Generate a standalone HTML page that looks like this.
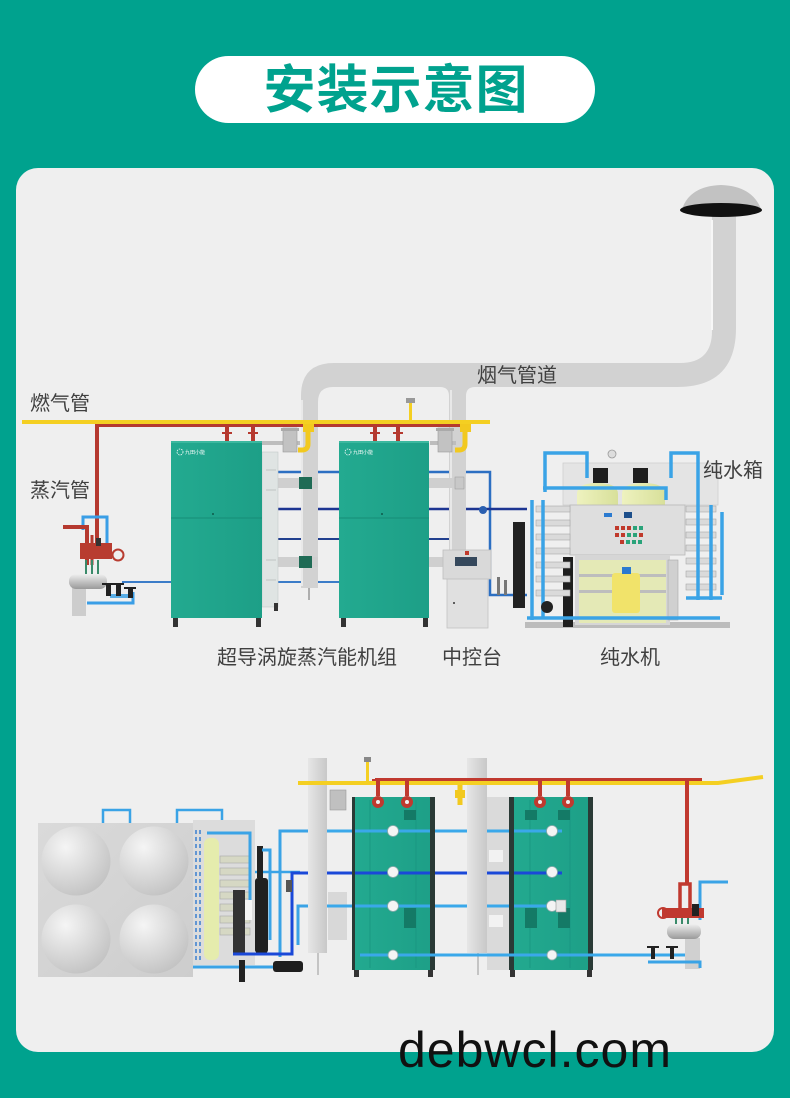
<!DOCTYPE html>
<html><head><meta charset="utf-8">
<style>
html,body{margin:0;padding:0;width:790px;height:1098px;overflow:hidden;background:#00a28e}
svg{display:block}
text{font-family:"Liberation Sans","Noto Sans CJK SC",sans-serif}
</style></head><body>
<svg width="790" height="1098" viewBox="0 0 790 1098" xmlns="http://www.w3.org/2000/svg">
<defs>
 <linearGradient id="dv" x1="0" x2="1" y1="0" y2="0"><stop offset="0" stop-color="#e6e6e6"/><stop offset="1" stop-color="#c8c8c8"/></linearGradient>
 <linearGradient id="teal" x1="0" x2="1" y1="0" y2="0"><stop offset="0" stop-color="#23aa90"/><stop offset="1" stop-color="#1d9f87"/></linearGradient>
 <radialGradient id="dome" cx="0.35" cy="0.3" r="0.85"><stop offset="0" stop-color="#f5f5f5"/><stop offset="1" stop-color="#bcbcbc"/></radialGradient>
 <linearGradient id="tank" x1="0" x2="1" y1="0" y2="1"><stop offset="0" stop-color="#dadada"/><stop offset="1" stop-color="#cdcdcd"/></linearGradient>
 <linearGradient id="cyl" x1="0" x2="0" y1="0" y2="1"><stop offset="0" stop-color="#f0f0f0"/><stop offset="0.5" stop-color="#c4c4c4"/><stop offset="1" stop-color="#9a9a9a"/></linearGradient>
 <linearGradient id="yel" x1="0" x2="1"><stop offset="0" stop-color="#eef2bf"/><stop offset="1" stop-color="#d8e09a"/></linearGradient>
</defs>

<rect width="790" height="1098" fill="#00a28e"/>
<rect x="195" y="56" width="400" height="67" rx="33.5" fill="#fff"/>
<text x="396" y="108" text-anchor="middle" font-size="52" font-weight="700" fill="#00a28e" letter-spacing="1">安装示意图</text>

<rect x="16" y="168" width="758" height="884" rx="22" fill="#efefef"/>

<!-- ================= TOP SECTION ================= -->
<g fill="none" stroke-width="2.5">
 <path d="M262 472 H339 M429 472 H490 V595 H527" stroke="#2c6fc2"/>
 <path d="M262 509 H339 M429 509 H527" stroke="#1d3592"/>
 <path d="M262 539 H339 M429 539 H449" stroke="#22408f" stroke-width="2"/>
 <path d="M122 582 H171 M262 582 H339" stroke="#3b7cc8" stroke-width="2"/>
</g>

<!-- flue duct -->
<path d="M712 214 H736 V328 Q736 387 677 387 H333 Q318 387 318 402 V588 H301 V396 Q301 363 334 363 H680 Q712 363 712 331 Z" fill="#d2d2d2"/>
<path d="M712 220 V330" stroke="#f7f7f7" stroke-width="2"/>
<path d="M302 400 V586" stroke="#e9e9e9" stroke-width="2"/>
<path d="M440 387 Q449 387 449 396 L466 396 Q466 387 475 387 Z" fill="#d2d2d2"/>
<rect x="449" y="386" width="17" height="166" fill="#d2d2d2"/>
<rect x="450" y="390" width="2" height="160" fill="#e8e8e8"/>
<path d="M682 209 Q690 186 721 185 Q752 186 761 209 Z" fill="#c2c2c2"/>
<ellipse cx="721" cy="210" rx="41" ry="7" fill="#111"/>

<rect x="278" y="478" width="40" height="10" fill="#cfcfcf"/>
<rect x="299" y="477" width="13" height="12" fill="#1f6b55"/>
<rect x="278" y="557" width="40" height="10" fill="#cfcfcf"/>
<rect x="299" y="556" width="13" height="12" fill="#1f6b55"/>
<rect x="429" y="478" width="37" height="10" fill="#cfcfcf"/>
<rect x="455" y="477" width="9" height="12" fill="#c8c8c8" stroke="#999" stroke-width="0.5"/>
<rect x="429" y="557" width="20" height="10" fill="#cfcfcf"/>
<path d="M309 588 V600" stroke="#999" stroke-width="1.5"/>

<rect x="22" y="420" width="468" height="4" fill="#f4cf22"/>
<rect x="95" y="424" width="375" height="3" fill="#b5392f"/>
<rect x="95" y="424" width="4" height="126" fill="#b5392f"/>
<rect x="409" y="402" width="3" height="18" fill="#f4cf22"/>
<rect x="406" y="398" width="9" height="5" fill="#999"/>
<g fill="#b5392f">
 <rect x="225" y="426" width="4" height="15"/><rect x="222" y="432" width="10" height="2"/>
 <rect x="251" y="426" width="4" height="15"/><rect x="248" y="432" width="10" height="2"/>
 <rect x="373" y="426" width="4" height="15"/><rect x="370" y="432" width="10" height="2"/>
 <rect x="396" y="426" width="4" height="15"/><rect x="393" y="432" width="10" height="2"/>
</g>
<g>
 <rect x="262" y="441" width="38" height="4" fill="#bdbdbd"/>
 <rect x="283" y="428" width="14" height="24" fill="#c2c2c2" stroke="#999" stroke-width="0.6"/>
 <rect x="281" y="428" width="18" height="3" fill="#aaa"/>
 <rect x="303" y="424" width="11" height="8" fill="#f2c91f"/>
 <path d="M308 432 V444 Q308 450 302 450 H298" fill="none" stroke="#f2c91f" stroke-width="5"/>
 <rect x="430" y="441" width="26" height="4" fill="#bdbdbd"/>
 <rect x="438" y="428" width="14" height="24" fill="#c2c2c2" stroke="#999" stroke-width="0.6"/>
 <rect x="436" y="428" width="18" height="3" fill="#aaa"/>
 <rect x="460" y="424" width="11" height="8" fill="#f2c91f"/>
 <path d="M465 432 V444 Q465 450 459 450 H455" fill="none" stroke="#f2c91f" stroke-width="5"/>
</g>

<!-- boiler 1 -->
<rect x="262" y="452" width="16" height="155" fill="#dfe4e3" stroke="#c4c9c8" stroke-width="0.6"/>
<path d="M266 470 H276 M266 490 H276 M266 560 H276 M266 580 H276" stroke="#bfc4c3" stroke-width="1"/>
<rect x="274" y="603" width="4" height="8" fill="#333"/>
<rect x="171" y="441" width="91" height="177" fill="url(#teal)"/>
<rect x="171" y="441" width="91" height="2" fill="#3cb89f"/>
<line x1="171" y1="518" x2="262" y2="518" stroke="#168d77" stroke-width="1"/>
<circle cx="213" cy="514" r="1" fill="#0d5a4b"/>
<circle cx="180" cy="452" r="3" fill="none" stroke="#fff" stroke-width="0.8" stroke-dasharray="1.5 1"/>
<text x="185" y="454" font-size="5" fill="#fff">九田小能</text>
<rect x="173" y="618" width="5" height="9" fill="#333"/>
<rect x="256" y="618" width="5" height="9" fill="#333"/>
<!-- boiler 2 -->
<rect x="339" y="441" width="90" height="177" fill="url(#teal)"/>
<rect x="339" y="441" width="90" height="2" fill="#3cb89f"/>
<line x1="339" y1="518" x2="429" y2="518" stroke="#168d77" stroke-width="1"/>
<circle cx="382" cy="514" r="1" fill="#0d5a4b"/>
<circle cx="348" cy="452" r="3" fill="none" stroke="#fff" stroke-width="0.8" stroke-dasharray="1.5 1"/>
<text x="353" y="454" font-size="5" fill="#fff">九田小能</text>
<rect x="341" y="618" width="5" height="9" fill="#333"/>
<rect x="423" y="618" width="5" height="9" fill="#333"/>

<!-- top-left steam header -->
<g>
 <path d="M83 530 V517 H107 V552" fill="none" stroke="#3a9ee6" stroke-width="3"/>
 <path d="M63 527 H87 V565" fill="none" stroke="#b5392f" stroke-width="4"/>
 <path d="M92 535 V565" fill="none" stroke="#b5392f" stroke-width="3"/>
 <rect x="80" y="543" width="32" height="16" fill="#b83c30"/>
 <rect x="96" y="538" width="5" height="8" fill="#333"/>
 <circle cx="118" cy="555" r="5.5" fill="none" stroke="#b83c30" stroke-width="2"/>
 <path d="M86 560 V575 M92 560 V575 M98 560 V575" stroke="#3a8a6a" stroke-width="2"/>
 <rect x="72" y="588" width="14" height="28" fill="#cdcdcd"/>
 <rect x="69" y="574" width="38" height="15" rx="7" fill="url(#cyl)"/>
 <path d="M87 603 H133 V592" fill="none" stroke="#3a9ee6" stroke-width="3"/>
 <path d="M110 596 H130" stroke="#5aaee6" stroke-width="4"/>
 <g fill="#222"><rect x="106" y="584" width="5" height="12"/><rect x="102" y="583" width="12" height="2"/>
 <rect x="116" y="584" width="5" height="12"/><rect x="112" y="583" width="12" height="2"/>
 <rect x="128" y="588" width="5" height="10"/><rect x="124" y="587" width="12" height="2"/></g>
</g>

<!-- control console -->
<rect x="447" y="578" width="41" height="50" fill="#e0e0e0" stroke="#c2c2c2" stroke-width="0.8"/>
<circle cx="454" cy="603" r="1" fill="#333"/>
<rect x="443" y="550" width="48" height="29" fill="#d9d9d9" stroke="#bdbdbd" stroke-width="0.8"/>
<rect x="455" y="557" width="22" height="9" fill="#35485c"/>
<rect x="465" y="551" width="4" height="4" fill="#c0392b"/>
<rect x="497" y="577" width="3" height="18" fill="#777"/>
<rect x="504" y="580" width="3" height="15" fill="#777"/>
<circle cx="483" cy="510" r="4" fill="#2a5fb0"/>

<!-- pure water machine -->
<g>
 <rect x="513" y="522" width="12" height="86" fill="#222"/>
 <rect x="525" y="622" width="205" height="6" fill="#bcbcbc"/>
 <rect x="563" y="463" width="155" height="42" fill="#e4e4e4" stroke="#cfcfcf" stroke-width="0.8"/>
 <path d="M577 505 V494 Q577 483 597 483 Q618 483 618 494 V505 Z" fill="url(#yel)"/>
 <path d="M622 505 V494 Q622 483 643 483 Q665 483 665 494 V505 Z" fill="url(#yel)"/>
 <rect x="593" y="468" width="15" height="15" fill="#1e1e1e"/>
 <rect x="633" y="468" width="15" height="15" fill="#1e1e1e"/>
 <circle cx="612" cy="454" r="4" fill="#ddd" stroke="#999" stroke-width="0.8"/>
 <rect x="570" y="505" width="115" height="50" fill="#dedede" stroke="#b8b8b8" stroke-width="0.8"/>
 <rect x="604" y="513" width="8" height="4" fill="#2b7ad0"/>
 <rect x="624" y="512" width="8" height="6" fill="#1d4f8a"/>
 <g fill="#c0392b">
  <rect x="615" y="526" width="4" height="4"/><rect x="621" y="526" width="4" height="4"/><rect x="627" y="526" width="4" height="4"/><rect x="633" y="526" width="4" height="4" fill="#2aa37a"/><rect x="639" y="526" width="4" height="4" fill="#2aa37a"/>
  <rect x="615" y="533" width="4" height="4"/><rect x="621" y="533" width="4" height="4"/><rect x="627" y="533" width="4" height="4" fill="#2aa37a"/><rect x="633" y="533" width="4" height="4" fill="#2aa37a"/><rect x="639" y="533" width="4" height="4"/>
  <rect x="620" y="540" width="4" height="4"/><rect x="626" y="540" width="4" height="4" fill="#2aa37a"/><rect x="632" y="540" width="4" height="4" fill="#2aa37a"/><rect x="638" y="540" width="4" height="4" fill="#2aa37a"/>
 </g>
 <rect x="575" y="555" width="95" height="70" fill="#d6d6d6"/>
 <rect x="579" y="560" width="87" height="63" fill="#e4e9b6"/>
 <rect x="579" y="574" width="87" height="3" fill="#bdbdbd"/>
 <rect x="579" y="590" width="87" height="3" fill="#bdbdbd"/>
 <rect x="612" y="573" width="28" height="40" rx="3" fill="#f1e36a"/>
 <rect x="622" y="567" width="9" height="7" fill="#2b7ad0"/>
 <rect x="563" y="557" width="10" height="70" fill="#1e1e1e"/>
 <rect x="668" y="560" width="10" height="60" fill="#d0d0d0" stroke="#aaa" stroke-width="0.6"/>
 <g fill="#dadada" stroke="#a9a9a9" stroke-width="0.6">
  <rect x="536" y="506" width="34" height="6"/><rect x="536" y="520" width="34" height="6"/><rect x="536" y="534" width="34" height="6"/><rect x="536" y="548" width="34" height="6"/><rect x="536" y="562" width="34" height="6"/><rect x="536" y="576" width="34" height="6"/><rect x="536" y="590" width="34" height="6"/>
 </g>
 <g fill="#dadada" stroke="#a9a9a9" stroke-width="0.6">
  <rect x="686" y="506" width="30" height="6"/><rect x="686" y="519" width="30" height="6"/><rect x="686" y="532" width="30" height="6"/><rect x="686" y="545" width="30" height="6"/><rect x="686" y="558" width="30" height="6"/><rect x="686" y="571" width="30" height="6"/><rect x="686" y="584" width="30" height="6"/>
 </g>
 <g fill="none" stroke="#3aa3e6" stroke-width="3.5">
  <path d="M532 500 V620"/>
  <path d="M543 500 V618"/>
  <path d="M545 492 V453 H587 V478"/>
  <path d="M543 488 H666 V500"/>
  <path d="M671 478 V453 H698 V600"/>
  <path d="M711 505 V600"/>
  <path d="M722 512 V595"/>
  <path d="M527 618 H720"/>
  <path d="M686 598 H722"/>
 </g>
 <circle cx="547" cy="607" r="6" fill="#222"/>
</g>

<g font-size="20" fill="#404040">
 <text x="30" y="410">燃气管</text>
 <text x="30" y="497">蒸汽管</text>
 <text x="477" y="382">烟气管道</text>
 <text x="703" y="477">纯水箱</text>
 <text x="217" y="664">超导涡旋蒸汽能机组</text>
 <text x="442" y="664">中控台</text>
 <text x="600" y="664">纯水机</text>
</g>

<!-- ================= BOTTOM SECTION ================= -->
<rect x="38" y="823" width="155" height="154" fill="url(#tank)"/>
<circle cx="76" cy="861" r="34.5" fill="url(#dome)"/>
<circle cx="154" cy="861" r="34.5" fill="url(#dome)"/>
<circle cx="76" cy="939" r="34.5" fill="url(#dome)"/>
<circle cx="154" cy="939" r="34.5" fill="url(#dome)"/>
<g fill="none" stroke="#3aa3e6" stroke-width="2.5">
 <path d="M103 823 V810 H130 V823"/>
 <path d="M177 823 V810 H222 V872 H300"/>
</g>

<!-- RO unit -->
<rect x="193" y="820" width="62" height="145" fill="#dcdcdc"/>
<g fill="#d6d8c4" stroke="#a8a8a8" stroke-width="0.6">
 <rect x="220" y="856" width="30" height="7"/><rect x="220" y="868" width="30" height="7"/><rect x="220" y="880" width="30" height="7"/><rect x="220" y="892" width="30" height="7"/><rect x="220" y="904" width="30" height="7"/><rect x="220" y="916" width="30" height="7"/><rect x="220" y="928" width="30" height="7"/>
</g>
<path d="M196 830 V960 M200 830 V960" stroke="#3a7fd0" stroke-width="1.5" stroke-dasharray="4 3"/>
<rect x="204" y="838" width="15" height="122" rx="6" fill="#e5ecad"/>
<rect x="233" y="890" width="12" height="65" fill="#333"/>
<rect x="245" y="900" width="7" height="20" fill="#f4f4f4"/>
<rect x="255" y="878" width="13" height="75" rx="3" fill="#202020"/>
<rect x="257" y="846" width="6" height="32" fill="#222"/>
<g fill="none" stroke="#3aa3e6" stroke-width="3">
 <path d="M207 833 H250 V900"/>
 <path d="M262 850 H270 V940"/>
 <path d="M193 967 H290"/>
 <path d="M280 957 V831 H562"/>
 <path d="M298 945 V906 H562"/>
</g>
<g fill="none" stroke="#1a48d8" stroke-width="3">
 <path d="M233 954 H292 V873 H562"/>
</g>
<rect x="273" y="961" width="30" height="11" rx="3" fill="#1e1e1e"/>
<rect x="239" y="960" width="6" height="22" fill="#222"/>
<rect x="286" y="880" width="6" height="12" fill="#555"/>

<!-- flue ducts bottom -->
<rect x="308" y="758" width="19" height="195" fill="url(#dv)"/>
<rect x="328" y="892" width="19" height="48" fill="#d8d8d8"/>
<rect x="330" y="790" width="16" height="20" fill="#c0c0c0" stroke="#999" stroke-width="0.6"/>
<path d="M318 953 V975" stroke="#999" stroke-width="1"/>
<rect x="467" y="758" width="20" height="195" fill="url(#dv)"/>
<rect x="487" y="797" width="22" height="173" fill="#dadada"/>
<rect x="489" y="850" width="14" height="12" fill="#f2f2f2"/>
<rect x="489" y="915" width="14" height="12" fill="#f2f2f2"/>
<path d="M478 953 V975" stroke="#999" stroke-width="1"/>

<!-- boilers bottom -->
<g>
 <rect x="352" y="797" width="83" height="173" fill="url(#teal)"/>
 <rect x="352" y="797" width="3" height="173" fill="#2a3a36"/>
 <rect x="430" y="797" width="5" height="173" fill="#2a3a36"/>
 <line x1="370" y1="800" x2="370" y2="968" stroke="#189580" stroke-width="0.8"/>
 <line x1="416" y1="800" x2="416" y2="968" stroke="#189580" stroke-width="0.8"/>
 <rect x="404" y="810" width="12" height="10" fill="#147a66"/>
 <rect x="404" y="908" width="12" height="20" fill="#147a66"/>
 <rect x="354" y="970" width="5" height="7" fill="#333"/><rect x="428" y="970" width="5" height="7" fill="#333"/>

 <rect x="509" y="797" width="84" height="173" fill="url(#teal)"/>
 <rect x="509" y="797" width="5" height="173" fill="#2a3a36"/>
 <rect x="588" y="797" width="5" height="173" fill="#2a3a36"/>
 <line x1="530" y1="800" x2="530" y2="968" stroke="#189580" stroke-width="0.8"/>
 <line x1="570" y1="800" x2="570" y2="968" stroke="#189580" stroke-width="0.8"/>
 <rect x="525" y="810" width="12" height="10" fill="#147a66"/>
 <rect x="558" y="810" width="12" height="10" fill="#147a66"/>
 <rect x="525" y="908" width="12" height="20" fill="#147a66"/>
 <rect x="558" y="908" width="12" height="20" fill="#147a66"/>
 <rect x="510" y="970" width="5" height="7" fill="#333"/><rect x="587" y="970" width="5" height="7" fill="#333"/>
</g>
<g fill="none" stroke-width="3">
 <path d="M327 831 H352 M355 831 H430 M435 831 H467 M487 831 H509 M514 831 H562" stroke="#3aa8ea"/>
 <path d="M327 873 H352 M355 873 H430 M435 873 H467 M487 873 H509 M514 873 H562" stroke="#1a48d8"/>
 <path d="M327 906 H352 M355 906 H430 M435 906 H467 M487 906 H509 M514 906 H562" stroke="#3aa8ea"/>
 <path d="M360 955 H695" stroke="#3aa8ea"/>
</g>
<g fill="#f4f4f4" stroke="#8aa" stroke-width="0.8">
 <circle cx="393" cy="831" r="5.5"/><circle cx="393" cy="872" r="5.5"/><circle cx="393" cy="906" r="5.5"/><circle cx="393" cy="955" r="5"/>
 <circle cx="552" cy="831" r="5.5"/><circle cx="552" cy="872" r="5.5"/><circle cx="552" cy="906" r="5.5"/><circle cx="552" cy="955" r="5"/>
</g>
<rect x="556" y="900" width="10" height="12" fill="#e8e8e8" stroke="#999" stroke-width="0.6"/>

<!-- gas & steam pipes bottom -->
<path d="M298 783 H718 L763 777" fill="none" stroke="#f4cf22" stroke-width="4"/>
<rect x="366" y="760" width="3" height="22" fill="#f4cf22"/>
<rect x="364" y="757" width="7" height="5" fill="#888"/>
<path d="M460 785 V805" stroke="#f2c91f" stroke-width="5"/>
<rect x="455" y="790" width="10" height="8" fill="#f2c91f"/>
<rect x="375" y="778" width="327" height="3" fill="#c0392f"/>
<rect x="685" y="779" width="4" height="105" fill="#c0392f"/>
<g fill="#c0392f">
 <rect x="376" y="780" width="4" height="16"/><rect x="372" y="779" width="12" height="2"/><circle cx="378" cy="802" r="6"/>
 <rect x="405" y="780" width="4" height="16"/><rect x="401" y="779" width="12" height="2"/><circle cx="407" cy="802" r="6"/>
 <rect x="538" y="780" width="4" height="16"/><rect x="534" y="779" width="12" height="2"/><circle cx="540" cy="802" r="6"/>
 <rect x="566" y="780" width="4" height="16"/><rect x="562" y="779" width="12" height="2"/><circle cx="568" cy="802" r="6"/>
</g>
<g fill="#f0f0f0"><circle cx="378" cy="802" r="2"/><circle cx="407" cy="802" r="2"/><circle cx="540" cy="802" r="2"/><circle cx="568" cy="802" r="2"/></g>

<!-- bottom-right steam header -->
<g>
 <path d="M700 920 V882 H728" fill="none" stroke="#3aa3e6" stroke-width="3"/>
 <path d="M680 912 V884 H690 V912" fill="none" stroke="#c0392f" stroke-width="3.5"/>
 <rect x="662" y="908" width="42" height="10" fill="#c0392f"/>
 <circle cx="663" cy="913" r="5" fill="none" stroke="#c0392f" stroke-width="2"/>
 <rect x="692" y="904" width="7" height="12" fill="#222"/>
 <path d="M676 918 V926 M682 918 V926 M688 918 V926" stroke="#3a8a6a" stroke-width="2"/>
 <rect x="685" y="938" width="15" height="31" fill="#d0d0d0"/>
 <rect x="667" y="924" width="34" height="15" rx="7" fill="url(#cyl)"/>
 <path d="M648 962 H700 V968" fill="none" stroke="#3aa3e6" stroke-width="3"/>
 <g fill="#222"><rect x="651" y="947" width="4" height="12"/><rect x="647" y="946" width="12" height="2"/>
 <rect x="670" y="947" width="4" height="12"/><rect x="666" y="946" width="12" height="2"/></g>
</g>

<text x="398" y="1067" font-size="50" fill="#111" letter-spacing="1">debwcl.com</text>
</svg>
</body></html>
